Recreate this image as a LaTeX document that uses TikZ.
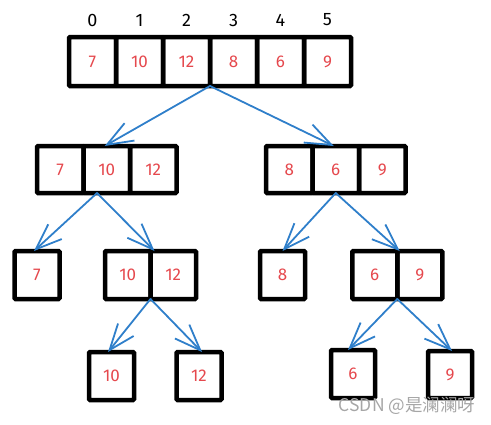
\documentclass[tikz,border=0pt]{standalone}
\usepackage{fontspec}
\setmainfont{Fira Sans}
\newfontfamily\cjkfont{Noto Sans CJK SC}
\usetikzlibrary{arrows.meta}
\definecolor{numred}{HTML}{E5484D}
\definecolor{arrblue}{HTML}{2F7FCA}
\definecolor{wmgray}{HTML}{A6A6A6}
\tikzset{
  cell/.style={draw=black, line width=4.5pt, rounded corners=1pt, inner sep=0pt, outer sep=0pt,
    text=numred, font=\fontsize{17}{17}\selectfont},
  idx/.style={font=\fontsize{18}{18}\selectfont, text=black, inner sep=0pt},
  link/.style={arrblue, line width=1.8pt, line cap=round,
    -{Straight Barb[length=26pt,width=20pt,line width=1.8pt]}},
  wm/.style={text=wmgray, font=\cjkfont\fontsize{17.5}{17.5}\selectfont, inner sep=0pt}
}
\begin{document}
\begin{tikzpicture}[x=1pt,y=-1pt]
\useasboundingbox (0,0) rectangle (491,424);
% top array
\foreach \i/\v/\cx in {0/7/92.5,1/10/139.5,2/12/186.5,3/8/233.5,4/6/280.5,5/9/327.5}{
  \node[cell, minimum width=47pt, minimum height=49pt] (a\i) at (\cx,61.5) {\v};
  \node[idx] (n\i) at (\cx,20) {\i};
}
% level 2
\foreach \i/\v/\cx in {0/7/60.25,1/10/106.75,2/12/153.25}{
  \node[cell, minimum width=46.5pt, minimum height=47pt] (b\i) at (\cx,169.5) {\v};
}
\foreach \i/\v/\cx in {0/8/289.25,1/6/335.75,2/9/382.25}{
  \node[cell, minimum width=46.5pt, minimum height=47pt] (c\i) at (\cx,169.5) {\v};
}
% level 3
\node[cell, minimum width=45pt, minimum height=48pt] (d0) at (37,275) {7};
\node[cell, minimum width=45.5pt, minimum height=48pt] (e0) at (127.75,275) {10};
\node[cell, minimum width=45.5pt, minimum height=48pt] (e1) at (173.25,275) {12};
\node[cell, minimum width=45pt, minimum height=48pt] (p0) at (282.5,275) {8};
\node[cell, minimum width=45pt, minimum height=48pt] (f0) at (374.75,275) {6};
\node[cell, minimum width=45pt, minimum height=48pt] (f1) at (419.75,275) {9};
% level 4
\node[cell, minimum width=45pt, minimum height=48pt] (g0) at (111.5,376) {10};
\node[cell, minimum width=45pt, minimum height=48pt] (h0) at (199,376) {12};
\node[cell, minimum width=44pt, minimum height=48pt] (i0) at (353,374) {6};
\node[cell, minimum width=44pt, minimum height=47pt] (j0) at (450,374.5) {9};
% connectors
\coordinate (bstart) at (97,193);
\draw[link] (a2.south east) -- ([xshift=-2pt]b1.north);
\draw[link] (a2.south east) -- ([xshift=-2pt]c1.north);
\draw[link] (bstart) -- ([xshift=-3pt]d0.north);
\draw[link] (bstart) -- ([xshift=4pt]e0.north east);
\draw[link] (c1.south) -- (p0.north);
\draw[link] (c1.south) -- ([xshift=2.5pt]f0.north east);
\draw[link] (e0.south east) -- ([xshift=-3.5pt]g0.north);
\draw[link] (e0.south east) -- ([xshift=3pt]h0.north);
\draw[link] (f0.south east) -- ([xshift=-5pt]i0.north);
\draw[link] (f0.south east) -- ([xshift=2pt]j0.north);
% watermark
\node[wm] (wmark) at (407,406) {CSDN @是澜澜呀};
\end{tikzpicture}
\end{document}
